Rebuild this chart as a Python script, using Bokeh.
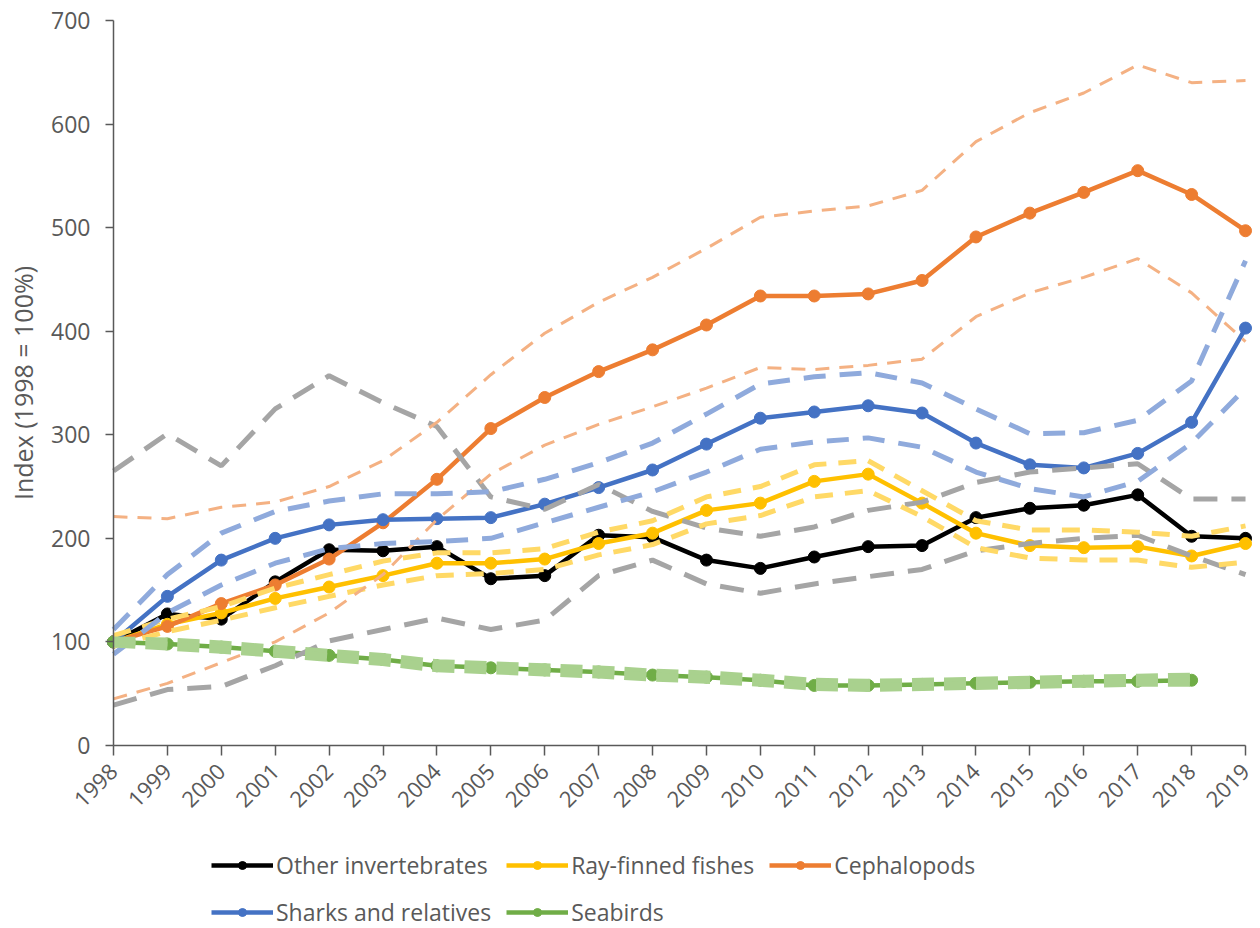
import math
from bokeh.plotting import figure
from bokeh.models import (Range1d, FixedTicker, Legend, LegendItem)
from bokeh.embed import file_html
from bokeh.resources import INLINE

years = list(range(1998, 2020))
years_birds = list(range(1998, 2019))

other_inv = [100, 127, 122, 158, 189, 188, 192, 161, 164, 203, 201, 179, 171, 182, 192, 193, 220, 229, 232, 242, 202, 200]
other_inv_hi = [265, 301, 270, 325, 357, 331, 308, 240, 228, 252, 226, 210, 202, 211, 227, 235, 254, 264, 268, 272, 238, 238]
other_inv_lo = [39, 54, 57, 77, 101, 112, 123, 112, 121, 164, 179, 156, 147, 156, 163, 170, 188, 195, 200, 203, 183, 165]

ray = [100, 117, 128, 142, 153, 164, 176, 176, 180, 195, 205, 227, 234, 255, 262, 234, 205, 193, 191, 192, 183, 195]
ray_hi = [106, 122, 134, 152, 165, 178, 186, 186, 190, 206, 217, 240, 250, 271, 275, 246, 217, 208, 208, 206, 202, 212]
ray_lo = [96, 110, 121, 133, 144, 155, 164, 166, 170, 184, 194, 214, 222, 240, 246, 221, 191, 181, 179, 179, 172, 177]

ceph = [100, 115, 137, 155, 180, 215, 257, 306, 336, 361, 382, 406, 434, 434, 436, 449, 491, 514, 534, 555, 532, 497]
ceph_hi = [221, 219, 230, 235, 250, 275, 312, 358, 398, 428, 452, 480, 510, 516, 521, 536, 583, 611, 630, 657, 640, 642]
ceph_lo = [45, 60, 80, 100, 128, 165, 218, 262, 290, 310, 327, 345, 365, 363, 367, 373, 414, 437, 452, 470, 437, 390]

sharks = [100, 144, 179, 200, 213, 218, 219, 220, 233, 249, 266, 291, 316, 322, 328, 321, 292, 271, 268, 282, 312, 403]
sharks_hi = [112, 165, 205, 226, 236, 243, 243, 245, 257, 273, 292, 320, 349, 356, 360, 350, 325, 301, 302, 314, 352, 468]
sharks_lo = [88, 128, 155, 176, 190, 195, 197, 200, 215, 230, 245, 264, 286, 293, 297, 288, 264, 248, 240, 255, 292, 345]

birds = [100, 98, 95, 91, 87, 83, 77, 75, 73, 71, 68, 66, 63, 58, 58, 59, 60, 61, 62, 62, 63]
birds_hi = [101, 100, 97, 93, 89, 85, 79, 77, 75, 73, 70, 68, 65, 61, 60, 61, 62, 63, 64, 65, 66]
birds_lo = [99, 96, 93, 89, 85, 81, 75, 73, 71, 69, 66, 64, 61, 57, 56, 57, 58, 59, 60, 61, 61]

y_ticks = [0, 100, 200, 300, 400, 500, 600, 700]

FONT = "Open Sans"
AXIS_GREY = "#595959"

# the frame covers the whole canvas so that axes drawn at fixed data
# locations (x = 1998, y = 0) and the legend below are not clipped
p = figure(frame_width=1253, frame_height=928,
           x_range=Range1d(1995.904, 2019.148), y_range=Range1d(-176.7, 719.3),
           output_backend="svg", toolbar_location=None,
           min_border_left=0, min_border_top=0, min_border_right=7,
           min_border_bottom=0)
p.outline_line_color = None
p.xgrid.grid_line_color = None
p.ygrid.grid_line_color = None
p.background_fill_color = "white"
p.border_fill_color = "white"

# x axis, drawn at y = 0
xa = p.xaxis[0]
xa.fixed_location = y_ticks[0]
xa.ticker = FixedTicker(ticks=years)
xa.bounds = (years[0], years[-1])
xa.axis_line_color = AXIS_GREY
xa.axis_line_width = 1.5
xa.major_tick_line_color = AXIS_GREY
xa.major_tick_line_width = 1.5
xa.major_tick_out = 10
xa.major_tick_in = 0
xa.minor_tick_line_color = None
xa.major_label_orientation = math.pi / 4
xa.major_label_text_font = FONT
xa.major_label_text_font_size = "22px"
xa.major_label_text_color = AXIS_GREY
xa.major_label_standoff = 12

# y axis, drawn at x = 1998
ya = p.yaxis[0]
ya.fixed_location = years[0]
ya.ticker = FixedTicker(ticks=y_ticks)
ya.bounds = (y_ticks[0], y_ticks[-1])
ya.axis_line_color = AXIS_GREY
ya.axis_line_width = 1.5
ya.major_tick_line_color = AXIS_GREY
ya.major_tick_line_width = 1.5
ya.major_tick_in = 0
ya.major_tick_out = 8
ya.minor_tick_line_color = None
ya.major_label_text_font = FONT
ya.major_label_text_font_size = "23px"
ya.major_label_text_color = AXIS_GREY
ya.major_label_standoff = 15
ya.axis_label = "Index (1998 = 100%)"
ya.axis_label_text_font = FONT
ya.axis_label_text_font_size = "25px"
ya.axis_label_text_font_style = "normal"
ya.axis_label_text_color = AXIS_GREY
ya.axis_label_standoff = 8

main_series = [
    ("Other invertebrates", years, other_inv, "#000000"),
    ("Ray-finned fishes", years, ray, "#FFC000"),
    ("Cephalopods", years, ceph, "#ED7D31"),
    ("Sharks and relatives", years, sharks, "#4472C4"),
    ("Seabirds", years_birds, birds, "#70AD47"),
]

items = []
for name, xs, ys, col in main_series:
    ln = p.line(xs, ys, line_color=col, line_width=4.5)
    sc = p.scatter(xs, ys, size=12, fill_color=col, line_color=col)
    items.append(LegendItem(label=name, renderers=[ln, sc]))

ci_series = [
    (years, other_inv_hi, other_inv_lo, "#A5A5A5", 5, "24 14"),
    (years, ray_hi, ray_lo, "#FFD966", 5, "18 12"),
    (years, ceph_hi, ceph_lo, "#F4B183", 3, "14 10"),
    (years, sharks_hi, sharks_lo, "#8FAADC", 5, "22 14"),
    (years_birds, birds_hi, birds_lo, "#A9D18E", 9, "22 10"),
]
for xs, hi, lo, col, w, dash in ci_series:
    p.line(xs, hi, line_color=col, line_width=w, line_dash=dash)
    p.line(xs, lo, line_color=col, line_width=w, line_dash=dash)

legend = Legend(items=items, orientation="horizontal", ncols=3,
                location=(211, 0), margin=0, padding=0, spacing=15,
                glyph_width=62, glyph_height=20, label_height=30,
                label_standoff=3,
                label_text_font=FONT, label_text_font_size="23px",
                label_text_color=AXIS_GREY,
                border_line_color=None, background_fill_alpha=0)
p.add_layout(legend, "center")

open("out.html", "w").write(file_html(p, INLINE))
